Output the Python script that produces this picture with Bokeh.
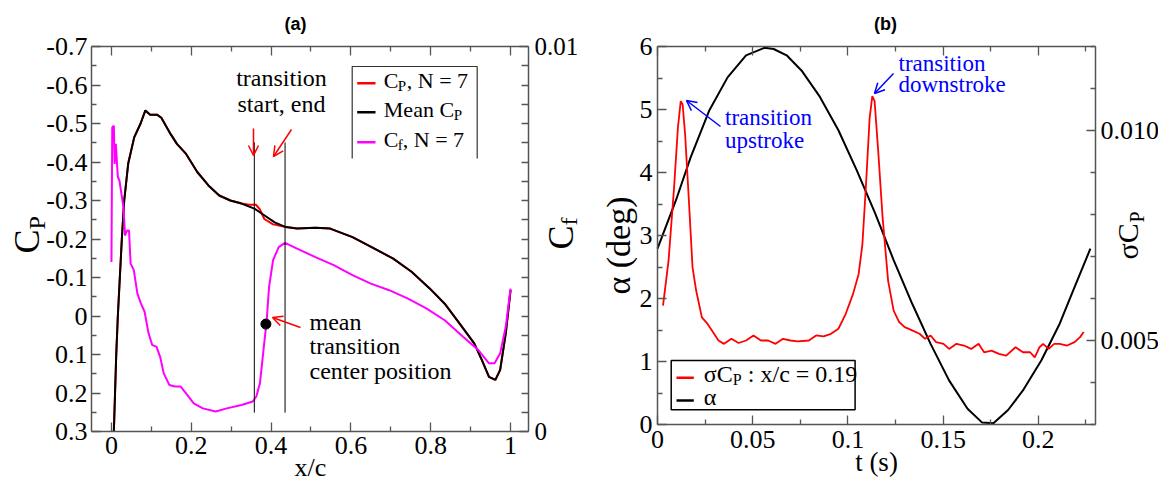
import math
from bokeh.plotting import figure
from bokeh.layouts import row
from bokeh.models import (Range1d, LinearAxis, FixedTicker, CustomJSTickFormatter,
                          Arrow, OpenHead)
from bokeh.core.properties import value
from bokeh.embed import file_html
from bokeh.resources import INLINE

# ---------------- panel (a) data ----------------
xc_mean = [0.006, 0.009, 0.012, 0.016, 0.021, 0.026, 0.032, 0.042, 0.057, 0.073,
           0.085, 0.097, 0.114, 0.125, 0.148, 0.164, 0.187, 0.215, 0.243, 0.270,
           0.298, 0.326, 0.358, 0.381, 0.409, 0.437, 0.465, 0.511, 0.548, 0.604,
           0.659, 0.706, 0.752, 0.798, 0.835, 0.872, 0.909, 0.928, 0.946, 0.962,
           0.974, 0.988, 1.0]
cp_mean = [0.30, 0.20, 0.10, 0.00, -0.10, -0.20, -0.30, -0.396, -0.464, -0.500,
           -0.534, -0.523, -0.523, -0.515, -0.473, -0.447, -0.421, -0.374, -0.339, -0.313,
           -0.300, -0.292, -0.279, -0.263, -0.243, -0.231, -0.227, -0.229, -0.227, -0.205,
           -0.175, -0.149, -0.115, -0.071, -0.032, 0.019, 0.071, 0.114, 0.158, 0.166,
           0.140, 0.045, -0.067]

xc_n7 = [0.006, 0.009, 0.012, 0.016, 0.021, 0.026, 0.032, 0.042, 0.057, 0.073,
         0.085, 0.097, 0.114, 0.125, 0.148, 0.164, 0.187, 0.215, 0.243, 0.270,
         0.298, 0.326, 0.345, 0.362, 0.372, 0.383, 0.405, 0.420, 0.437, 0.465,
         0.511, 0.548, 0.604, 0.659, 0.706, 0.752, 0.798, 0.835, 0.872, 0.909,
         0.928, 0.946, 0.962, 0.974, 0.988, 1.0]
cp_n7 = [0.30, 0.20, 0.10, 0.00, -0.10, -0.20, -0.30, -0.396, -0.464, -0.500,
         -0.534, -0.523, -0.523, -0.515, -0.473, -0.447, -0.421, -0.374, -0.339, -0.313,
         -0.300, -0.292, -0.289, -0.289, -0.277, -0.252, -0.238, -0.235, -0.231, -0.227,
         -0.229, -0.227, -0.205, -0.175, -0.149, -0.115, -0.071, -0.032, 0.019, 0.071,
         0.114, 0.158, 0.166, 0.140, 0.045, -0.067]

xc_cf = [0.000, 0.002, 0.006, 0.008, 0.011, 0.016, 0.020, 0.025, 0.030, 0.034,
         0.039, 0.044, 0.048, 0.056, 0.065, 0.074, 0.083, 0.093, 0.102, 0.113,
         0.122, 0.131, 0.145, 0.159, 0.173, 0.187, 0.206, 0.229, 0.261, 0.289,
         0.326, 0.354, 0.363, 0.372, 0.381, 0.389, 0.395, 0.405, 0.419, 0.435,
         0.465, 0.511, 0.557, 0.604, 0.650, 0.696, 0.743, 0.789, 0.835, 0.881,
         0.919, 0.946, 0.960, 0.974, 0.988, 1.0]
cf_n7 = [0.00440, 0.00790, 0.00794, 0.00695, 0.00747, 0.00661, 0.00652, 0.00617, 0.00583, 0.00509,
         0.00522, 0.00522, 0.00436, 0.00419, 0.00358, 0.00332, 0.00311, 0.00255, 0.00225, 0.00220,
         0.00194, 0.00151, 0.00121, 0.00117, 0.00117, 0.00099, 0.00073, 0.00060, 0.00052, 0.00060,
         0.00069, 0.00078, 0.00091, 0.00125, 0.00212, 0.00289, 0.00376, 0.00445, 0.00479, 0.00490,
         0.00475, 0.00453, 0.00432, 0.00406, 0.00384, 0.00367, 0.00345, 0.00320, 0.00289, 0.00246,
         0.00212, 0.00177, 0.00177, 0.00203, 0.00272, 0.00371]

transition_x = [0.358, 0.435]          # transition start, end (x/c)
transition_cp = [-0.451, 0.251]        # vertical extent of the marker lines
mean_transition_x = [0.387]
mean_transition_cp = [0.021]

xc_ticks = [0.0, 0.2, 0.4, 0.6, 0.8, 1.0]
xc_minor = [0.1, 0.3, 0.5, 0.7, 0.9]
cp_ticks = [-0.7, -0.6, -0.5, -0.4, -0.3, -0.2, -0.1, 0.0, 0.1, 0.2, 0.3]
cp_minor = [-0.65, -0.55, -0.45, -0.35, -0.25, -0.15, -0.05, 0.05, 0.15, 0.25]
cf_ticks = [0.0, 0.01]
cf_minor = [0.0005, 0.001, 0.0015, 0.002, 0.0025, 0.003, 0.0035, 0.004, 0.0045, 0.005,
            0.0055, 0.006, 0.0065, 0.007, 0.0075, 0.008, 0.0085, 0.009, 0.0095]

# ---------------- panel (b) data ----------------
t_alpha = [0.0, 0.0097, 0.0174, 0.0271, 0.0368, 0.0465, 0.0562, 0.0610, 0.0678, 0.0756,
           0.0853, 0.0950, 0.1047, 0.1143, 0.1240, 0.1337, 0.1434, 0.1531, 0.1628, 0.1705,
           0.1764, 0.1841, 0.1919, 0.2016, 0.2112, 0.2190, 0.2273]
alpha = [2.79, 3.56, 4.24, 4.98, 5.51, 5.86, 5.98, 5.96, 5.86, 5.62,
         5.20, 4.67, 4.03, 3.35, 2.61, 1.92, 1.28, 0.70, 0.25, 0.03,
         0.02, 0.23, 0.54, 1.02, 1.60, 2.18, 2.79]

t_sig = [0.0029, 0.0058, 0.0087, 0.0107, 0.0122, 0.0132, 0.0145, 0.0165, 0.0184, 0.0203,
         0.0233, 0.0262, 0.0291, 0.0320, 0.0349, 0.0388, 0.0426, 0.0465, 0.0504, 0.0543,
         0.0581, 0.0620, 0.0659, 0.0698, 0.0736, 0.0795, 0.0833, 0.0872, 0.0911, 0.0950,
         0.0988, 0.1027, 0.1056, 0.1076, 0.1095, 0.1114, 0.1128, 0.1140, 0.1159, 0.1182,
         0.1211, 0.1240, 0.1269, 0.1298, 0.1337, 0.1376, 0.1405, 0.1434, 0.1463, 0.1502,
         0.1531, 0.1570, 0.1609, 0.1647, 0.1686, 0.1715, 0.1754, 0.1793, 0.1831, 0.1880,
         0.1919, 0.1957, 0.1981, 0.2006, 0.2025, 0.2054, 0.2083, 0.2112, 0.2151, 0.2190,
         0.2219, 0.2238]
sig_cp = [0.00583, 0.00690, 0.00864, 0.01006, 0.01070, 0.01062, 0.00991, 0.00832, 0.00674, 0.00619,
          0.00555, 0.00540, 0.00520, 0.00500, 0.00492, 0.00504, 0.00494, 0.00500, 0.00512, 0.00500,
          0.00500, 0.00492, 0.00504, 0.00500, 0.00498, 0.00500, 0.00512, 0.00510, 0.00516, 0.00528,
          0.00563, 0.00611, 0.00658, 0.00729, 0.00872, 0.01030, 0.01082, 0.01070, 0.00951, 0.00793,
          0.00642, 0.00571, 0.00544, 0.00532, 0.00524, 0.00516, 0.00504, 0.00512, 0.00496, 0.00492,
          0.00480, 0.00492, 0.00488, 0.00480, 0.00492, 0.00472, 0.00476, 0.00468, 0.00464, 0.00484,
          0.00472, 0.00472, 0.00460, 0.00484, 0.00492, 0.00480, 0.00492, 0.00492, 0.00488, 0.00496,
          0.00508, 0.00520]

t_ticks = [0.0, 0.05, 0.1, 0.15, 0.2]
t_minor = [0.025, 0.075, 0.125, 0.175, 0.225]
alpha_ticks = [0, 1, 2, 3, 4, 5, 6]
alpha_minor = [0.5, 1.5, 2.5, 3.5, 4.5, 5.5]
sig_ticks = [0.005, 0.010]
sig_minor = [0.003, 0.004, 0.006, 0.007, 0.008, 0.009, 0.011, 0.012]

# ---------------- styling / layout constants ----------------
SERIF = "Liberation Serif"
SANS = "Liberation Sans"
AXC = "#555555"
TICK_SIZE = 26

# panel (a) plotting box in page pixels
A_L, A_T, A_W, A_H = 91, 46, 437, 385
XA0, XA1 = -0.05, 1.045
CP_TOP, CP_BOT = -0.7, 0.3
CF0, CF1 = 0.0, 0.01
A_WIDTH = 580
# panel (b) plotting box in page pixels (panel starts at page x = 580)
B_OFF = 580
B_L, B_T, B_W, B_H = 657, 46, 438, 378
T0, T1 = 0.0, 0.23
AL0, AL1 = 0.0, 6.0
SG0, SG1 = 0.003, 0.012
B_WIDTH = 578
HEIGHT = 482


def ax(px):
    return XA0 + (px - A_L) / A_W * (XA1 - XA0)


def ay(py):
    return CP_TOP + (py - A_T) / A_H * (CP_BOT - CP_TOP)


def acf(py):
    return CF0 + (A_T + A_H - py) / A_H * (CF1 - CF0)


def bx(px):
    return T0 + (px - B_L) / B_W * (T1 - T0)


def by(py):
    return AL0 + (B_T + B_H - py) / B_H * (AL1 - AL0)


def bsg(py):
    return SG0 + (B_T + B_H - py) / B_H * (SG1 - SG0)


def make_axis(fixed, bounds, ticks, minor, range_name=None):
    kw = {}
    if range_name:
        kw["y_range_name"] = range_name
    axis = LinearAxis(fixed_location=fixed, bounds=bounds, **kw)
    axis.ticker = FixedTicker(ticks=ticks, minor_ticks=minor)
    axis.formatter = CustomJSTickFormatter(code="return '';")
    axis.axis_line_color = AXC
    axis.axis_line_width = 1.5
    axis.major_tick_line_color = AXC
    axis.minor_tick_line_color = AXC
    axis.major_tick_line_width = 1.3
    axis.minor_tick_line_width = 1.3
    axis.major_tick_in = 9
    axis.major_tick_out = 0
    axis.minor_tick_in = 5
    axis.minor_tick_out = 0
    axis.major_label_text_font_size = "1px"
    axis.major_label_standoff = 0
    return axis


def tick_labels(p, xs, ys, labels, align, range_name="default", size=TICK_SIZE):
    p.text(x=xs, y=ys, text=labels, text_font=value(SERIF), text_font_size=value(f"{size}px"),
           text_color="black", text_align=align, text_baseline="middle",
           y_range_name=range_name)


def fmt(v):
    return f"{v:g}"


def txt(p, x, y, s, size, color="black", dx=0, dy=0, align="left", baseline="middle",
        angle=0.0, font=SERIF, style="normal"):
    p.text(x=[x], y=[y], text=[s], text_font=value(font), text_font_size=value(f"{size}px"),
           text_font_style=style, text_color=color, text_align=align, text_baseline=baseline,
           x_offset=dx, y_offset=dy, angle=angle)


def base_fig(width, xr, yr):
    p = figure(width=width, height=HEIGHT, output_backend="svg", toolbar_location=None,
               x_range=xr, y_range=yr, x_axis_location=None, y_axis_location=None,
               min_border=0)
    p.xgrid.visible = False
    p.ygrid.visible = False
    p.outline_line_color = None
    p.background_fill_color = "white"
    p.border_fill_color = "white"
    return p


# ================= panel (a) =================
pa = base_fig(A_WIDTH, Range1d(ax(0), ax(A_WIDTH)), Range1d(ay(HEIGHT), ay(0)))
pa.extra_y_ranges = {"cf": Range1d(acf(HEIGHT), acf(0))}

pa.add_layout(make_axis(CP_BOT, (XA0, XA1), xc_ticks, xc_minor), "below")
pa.add_layout(make_axis(CP_TOP, (XA0, XA1), xc_ticks, xc_minor), "above")
pa.add_layout(make_axis(XA0, (CP_TOP, CP_BOT), cp_ticks, cp_minor), "left")
a_right = make_axis(XA1, (CF0, CF1), cf_ticks, cf_minor, range_name="cf")
a_right.minor_tick_in = 7
pa.add_layout(a_right, "right")

tick_labels(pa, xc_ticks, [ay(445)] * len(xc_ticks), [fmt(v) for v in xc_ticks], "center")
tick_labels(pa, [ax(87)] * len(cp_ticks), cp_ticks, [fmt(v) for v in cp_ticks], "right")
tick_labels(pa, [ax(534)] * len(cf_ticks), cf_ticks, [fmt(v) for v in cf_ticks], "left",
            range_name="cf", size=25)

pa.line(xc_n7, cp_n7, line_color="#ff0000", line_width=2)
pa.line(xc_mean, cp_mean, line_color="black", line_width=2)
pa.line(xc_cf, cf_n7, line_color="#ff00ff", line_width=2, y_range_name="cf")
pa.segment(x0=transition_x, y0=[transition_cp[0]] * 2, x1=transition_x, y1=[transition_cp[1]] * 2,
           line_color="black", line_width=1)
pa.scatter(mean_transition_x, mean_transition_cp, size=10, color="black")

# annotations (a)
txt(pa, ax(281), ay(77), "transition", 24, align="center")
txt(pa, ax(281), ay(103), "start, end", 24, align="center")
for x0, y0, x1, y1 in [(253, 128, 253, 155), (291, 129, 273, 156), (300, 327, 272, 317)]:
    pa.add_layout(Arrow(end=OpenHead(size=10, line_color="#ff0000", line_width=1.5),
                        x_start=ax(x0), y_start=ay(y0), x_end=ax(x1), y_end=ay(y1),
                        line_color="#ff0000", line_width=1.5))
txt(pa, ax(309), ay(321), "mean", 24)
txt(pa, ax(309), ay(345), "transition", 24)
txt(pa, ax(309), ay(370), "center position", 24)

# legend (a)
pa.line([ax(351.7), ax(351.7), ax(476.7), ax(476.7)], [ay(158), ay(66), ay(66), ay(158)],
        line_color="#333333", line_width=1.2)
rows_a = [(82.7, "#ff0000", [("C", 0, 0, 22), ("P", 14, 5, 15), (", N = 7", 23, 0, 22)]),
          (111.7, "black", [("Mean C", 0, 0, 22), ("P", 70, 5, 15)]),
          (141.7, "#ff00ff", [("C", 0, 0, 22), ("f", 14, 5, 15), (", N = 7", 19, 0, 22)])]
for yy, col, parts in rows_a:
    pa.line([ax(356.7), ax(375)], [ay(yy), ay(yy)], line_color=col, line_width=2.5)
    for s, dx, dy, size in parts:
        txt(pa, ax(383.3), ay(yy - 2.5), s, size, dx=dx, dy=dy)

# titles and axis labels (a)
UP = math.pi / 2
txt(pa, ax(295), ay(23), "(a)", 18, align="center", font=SANS, style="bold")
txt(pa, ax(310), ay(467), "x/c", 26, align="center")
txt(pa, ax(26), ay(253), "C", 36, angle=UP)
txt(pa, ax(36), ay(229), "P", 24, angle=UP)
txt(pa, ax(560), ay(249), "C", 36, angle=UP)
txt(pa, ax(568), ay(225), "f", 24, angle=UP)

# ================= panel (b) =================
pb = base_fig(B_WIDTH, Range1d(bx(B_OFF), bx(B_OFF + B_WIDTH)), Range1d(by(HEIGHT), by(0)))
pb.extra_y_ranges = {"sig": Range1d(bsg(HEIGHT), bsg(0))}

pb.add_layout(make_axis(AL0, (T0, T1), t_ticks, t_minor), "below")
pb.add_layout(make_axis(AL1, (T0, T1), t_ticks, t_minor), "above")
pb.add_layout(make_axis(T0, (AL0, AL1), alpha_ticks, alpha_minor), "left")
pb.add_layout(make_axis(T1, (SG0, SG1), sig_ticks, sig_minor, range_name="sig"), "right")

tick_labels(pb, t_ticks, [by(439)] * len(t_ticks), [fmt(v) for v in t_ticks], "center")
tick_labels(pb, [bx(652)] * len(alpha_ticks), alpha_ticks, [fmt(v) for v in alpha_ticks], "right")
tick_labels(pb, [bx(1100)] * len(sig_ticks), sig_ticks, [f"{v:.3f}" for v in sig_ticks], "left",
            range_name="sig")

pb.line(t_alpha, alpha, line_color="black", line_width=2)
pb.line(t_sig, sig_cp, line_color="#ff0000", line_width=1.8, y_range_name="sig")

# annotations (b)
BLUE = "#0000ff"
txt(pb, bx(724.5), by(116.7), "transition", 23, color=BLUE)
txt(pb, bx(724.5), by(140), "upstroke", 23, color=BLUE)
txt(pb, bx(898), by(63), "transition", 23, color=BLUE)
txt(pb, bx(898), by(84), "downstroke", 23, color=BLUE)
for x0, y0, x1, y1 in [(720, 126, 686, 100), (893, 73, 874, 93)]:
    pb.add_layout(Arrow(end=OpenHead(size=10, line_color=BLUE, line_width=1.5),
                        x_start=bx(x0), y_start=by(y0), x_end=bx(x1), y_end=by(y1),
                        line_color=BLUE, line_width=1.5))

# legend (b)
pb.quad(left=[bx(670.7)], right=[bx(854.6)], top=[by(360)], bottom=[by(409.3)],
        fill_color="white", line_color="black", line_width=1.5)
rows_b = [(377.3, "#ff0000", [("σC", 0, 0, 24), ("P", 29, 6, 16), (": x/c = 0.19", 44, 0, 24)]),
          (400.0, "black", [("α", 0, 0, 24)])]
for yy, col, parts in rows_b:
    pb.line([bx(676), bx(693.3)], [by(yy), by(yy)], line_color=col, line_width=2.5)
    for s, dx, dy, size in parts:
        txt(pb, bx(703.3), by(yy - 4), s, size, dx=dx, dy=dy)

# titles and axis labels (b)
txt(pb, bx(885), by(23), "(b)", 18, align="center", font=SANS, style="bold")
txt(pb, bx(876), by(461), "t (s)", 27, align="center")
txt(pb, bx(618), by(245), "α (deg)", 34, angle=UP, align="center")
txt(pb, bx(1127), by(259), "σC", 30, angle=UP)
txt(pb, bx(1136), by(222), "P", 20, angle=UP)

layout = row(pa, pb)
open("out.html", "w").write(file_html(layout, INLINE))
